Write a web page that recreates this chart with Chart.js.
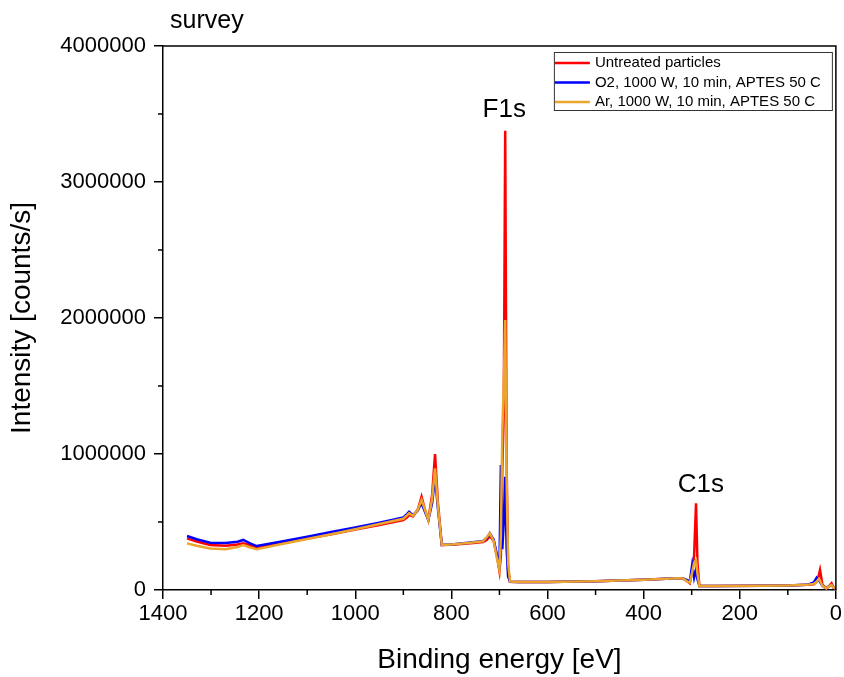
<!DOCTYPE html>
<html>
<head>
<meta charset="utf-8">
<title>survey</title>
<script src="https://cdn.jsdelivr.net/npm/chart.js@4.4.1/dist/chart.umd.min.js"></script>
<style>
  html, body { margin: 0; padding: 0; background: #fff; }
  #wrap { width: 844px; height: 677px; }
</style>
</head>
<body>
<div id="wrap"><canvas id="xps" width="844" height="677"></canvas></div>
<script>
// XPS survey spectra (counts/s vs binding energy in eV)
const energy = [1350, 1330, 1302, 1270, 1245, 1233, 1220, 1205, 1150, 1100, 1050, 1000, 950, 900,
  892, 888, 880, 870, 862, 855, 848, 840, 834, 828, 820, 800, 760, 734, 726, 720, 712, 704, 700,
  697, 694, 691, 688, 685, 682, 678, 660, 600, 500, 400, 330, 318, 308, 304, 299, 295, 291, 288,
  284, 250, 150, 100, 60, 46, 40, 36, 33, 28, 20, 15, 9, 5, 1];

const untreated = [380000, 356000, 331000, 326000, 334000, 343000, 329000, 314000, 345000, 378000,
  410000, 445000, 478000, 515000, 535000, 552000, 540000, 590000, 686000, 590000, 515000, 700000,
  1000000, 640000, 331000, 333000, 343000, 352000, 370000, 395000, 360000, 230000, 140000,
  250000, 900000, 1300000, 3377000, 900000, 150000, 61000, 59000, 58000, 65000, 75000, 86000,
  84000, 60000, 49000, 140000, 250000, 637000, 200000, 29000, 30000, 31000, 34000, 38000, 42000,
  60000, 100000, 147000, 40000, 12000, 25000, 49000, 20000, 12000];

const o2Aptes = [397000, 373000, 348000, 345000, 355000, 368000, 345000, 323000, 358000, 392000,
  426000, 460000, 495000, 534000, 560000, 576000, 551000, 585000, 640000, 575000, 515000, 640000,
  833000, 600000, 331000, 335000, 350000, 360000, 385000, 417000, 370000, 240000, 150000,
  919000, 300000, 500000, 833000, 300000, 100000, 60000, 59000, 58000, 65000, 76000, 86000,
  84000, 70000, 60000, 184000, 90000, 150000, 80000, 29000, 30000, 31000, 34000, 38000, 55000,
  90000, 70000, 60000, 30000, 12000, 25000, 37000, 18000, 12000];

const arAptes = [343000, 325000, 306000, 300000, 316000, 330000, 314000, 299000, 340000, 375000,
  410000, 447000, 485000, 524000, 550000, 565000, 545000, 590000, 662000, 590000, 515000, 670000,
  895000, 620000, 331000, 335000, 348000, 358000, 390000, 417000, 360000, 210000, 150000,
  400000, 1176000, 1500000, 1985000, 800000, 200000, 62000, 59000, 58000, 65000, 75000, 86000,
  84000, 60000, 55000, 130000, 200000, 220000, 120000, 29000, 30000, 31000, 34000, 38000, 45000,
  60000, 80000, 70000, 30000, 12000, 25000, 37000, 18000, 12000];

const seriesNames = ['Untreated particles', 'O2, 1000 W, 10 min, APTES 50 C', 'Ar, 1000 W, 10 min, APTES 50 C'];
const seriesColors = ['#ff0000', '#0000ff', '#eba52d'];
const xMinorTicks = [100, 300, 500, 700, 900, 1100, 1300];
const yMinorTicks = [500000, 1500000, 2500000, 3500000];
const peakLabels = [
  { text: 'F1s', x: 690, y: 3480000 },
  { text: 'C1s', x: 281, y: 723000 }
];

const FONT = "'Liberation Sans', Arial, sans-serif";

function toPoints(vals) { return energy.map((e, i) => ({ x: e, y: vals[i] })); }

// frame, minor ticks, peak names, title and legend box
const decor = {
  id: 'decor',
  afterDraw(chart) {
    const { ctx, chartArea: a, scales: { x, y } } = chart;
    ctx.save();
    ctx.strokeStyle = '#000';
    ctx.lineWidth = 1.5;
    ctx.beginPath();
    ctx.moveTo(a.left, a.top); ctx.lineTo(a.right, a.top); ctx.lineTo(a.right, a.bottom);
    ctx.stroke();

    ctx.beginPath();
    xMinorTicks.forEach(v => { const px = x.getPixelForValue(v); ctx.moveTo(px, a.bottom); ctx.lineTo(px, a.bottom + 5); });
    yMinorTicks.forEach(v => { const py = y.getPixelForValue(v); ctx.moveTo(a.left, py); ctx.lineTo(a.left - 5, py); });
    ctx.stroke();

    ctx.fillStyle = '#000';
    ctx.textBaseline = 'alphabetic';
    ctx.textAlign = 'left';
    ctx.font = '25px ' + FONT;
    ctx.fillText('survey', a.left + 7, a.top - 18);

    ctx.textAlign = 'center';
    ctx.font = '26px ' + FONT;
    peakLabels.forEach(p => ctx.fillText(p.text, x.getPixelForValue(p.x), y.getPixelForValue(p.y)));

    // legend
    const bx = a.right - 282, by = a.top + 6, bw = 278, bh = 58;
    ctx.lineWidth = 1;
    ctx.strokeStyle = '#333';
    ctx.strokeRect(bx + 0.5, by + 0.5, bw, bh);
    ctx.font = '15px ' + FONT;
    ctx.textAlign = 'left';
    ctx.textBaseline = 'middle';
    seriesNames.forEach((name, i) => {
      const ry = by + 11 + i * 19.5;
      ctx.strokeStyle = seriesColors[i];
      ctx.lineWidth = 2.5;
      ctx.beginPath(); ctx.moveTo(bx + 1, ry); ctx.lineTo(bx + 36, ry); ctx.stroke();
      ctx.fillStyle = '#000';
      ctx.fillText(name, bx + 41, ry);
    });
    ctx.restore();
  }
};

const datasets = [untreated, o2Aptes, arAptes].map((vals, i) => ({
  label: seriesNames[i],
  data: toPoints(vals),
  borderColor: seriesColors[i],
  borderWidth: 2.5,
  pointRadius: 0,
  tension: 0,
  fill: false,
  order: 2 - i   // last series drawn on top
}));

new Chart(document.getElementById('xps').getContext('2d'), {
  type: 'line',
  data: { datasets },
  options: {
    responsive: false,
    animation: false,
    layout: { padding: { top: 46, right: 8, left: 0, bottom: 0 } },
    plugins: { legend: { display: false }, tooltip: { enabled: false } },
    scales: {
      x: {
        type: 'linear', reverse: true, min: 0, max: 1400,
        border: { display: true, color: '#000', width: 1.5 },
        grid: { drawOnChartArea: false, drawTicks: true, tickLength: 9, color: '#000', lineWidth: 1.5 },
        ticks: { stepSize: 200, color: '#000', font: { family: FONT, size: 22 }, padding: 2, maxRotation: 0, autoSkip: false, callback: v => String(v) },
        title: { display: true, text: 'Binding energy [eV]', color: '#000', font: { family: FONT, size: 28 }, padding: { top: 0, bottom: 0 } },
        afterFit(s) { s.height = 87; }
      },
      y: {
        type: 'linear', min: 0, max: 4000000,
        border: { display: true, color: '#000', width: 1.5 },
        grid: { drawOnChartArea: false, drawTicks: true, tickLength: 9, color: '#000', lineWidth: 1.5 },
        ticks: { stepSize: 1000000, color: '#000', font: { family: FONT, size: 22 }, padding: 8, callback: v => String(v) },
        title: { display: true, text: 'Intensity [counts/s]', color: '#000', font: { family: FONT, size: 28 }, padding: { top: 5, bottom: 0 } },
        afterFit(s) { s.width = 163; }
      }
    }
  },
  plugins: [decor]
});
</script>
</body>
</html>
